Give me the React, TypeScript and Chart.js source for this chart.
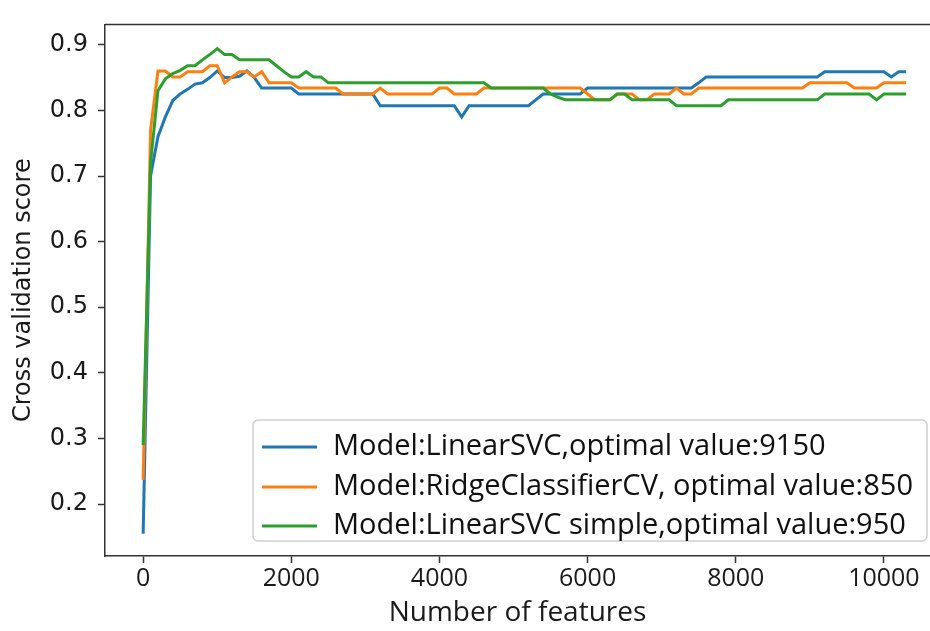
import React, { useEffect, useRef } from "react";
import { Chart, registerables } from "chart.js";

Chart.register(...registerables);

// Number of features (x positions of the points)
const featureCounts = [
  0, 100, 200, 300, 400, 500, 600, 700, 800, 900,
  1000, 1100, 1200, 1300, 1400, 1500, 1600, 1700, 1800, 1900,
  2000, 2100, 2200, 2300, 2400, 2500, 2600, 2700, 2800, 2900,
  3000, 3100, 3200, 3300, 3400, 3500, 3600, 3700, 3800, 3900,
  4000, 4100, 4200, 4300, 4400, 4500, 4600, 4700, 4800, 4900,
  5000, 5100, 5200, 5300, 5400, 5500, 5600, 5700, 5800, 5900,
  6000, 6100, 6200, 6300, 6400, 6500, 6600, 6700, 6800, 6900,
  7000, 7100, 7200, 7300, 7400, 7500, 7600, 7700, 7800, 7900,
  8000, 8100, 8200, 8300, 8400, 8500, 8600, 8700, 8800, 8900,
  9000, 9100, 9200, 9300, 9400, 9500, 9600, 9700, 9800, 9900,
  10000, 10100, 10200, 10300,
];

// Model:LinearSVC
const linearSvc = [
  0.155, 0.700, 0.760, 0.790, 0.815, 0.825, 0.832, 0.840, 0.842, 0.850,
  0.860, 0.850, 0.850, 0.852, 0.860, 0.850, 0.834, 0.834, 0.834, 0.834,
  0.834, 0.825, 0.825, 0.825, 0.825, 0.825, 0.825, 0.825, 0.825, 0.825,
  0.825, 0.825, 0.807, 0.807, 0.807, 0.807, 0.807, 0.807, 0.807, 0.807,
  0.807, 0.807, 0.807, 0.790, 0.807, 0.807, 0.807, 0.807, 0.807, 0.807,
  0.807, 0.807, 0.807, 0.816, 0.825, 0.825, 0.825, 0.825, 0.825, 0.825,
  0.834, 0.834, 0.834, 0.834, 0.834, 0.834, 0.834, 0.834, 0.834, 0.834,
  0.834, 0.834, 0.834, 0.834, 0.834, 0.842, 0.851, 0.851, 0.851, 0.851,
  0.851, 0.851, 0.851, 0.851, 0.851, 0.851, 0.851, 0.851, 0.851, 0.851,
  0.851, 0.851, 0.859, 0.859, 0.859, 0.859, 0.859, 0.859, 0.859, 0.859,
  0.859, 0.851, 0.859, 0.859,
];

// Model:RidgeClassifierCV
const ridgeClassifier = [
  0.237, 0.770, 0.860, 0.860, 0.851, 0.851, 0.859, 0.859, 0.859, 0.868,
  0.868, 0.842, 0.851, 0.859, 0.859, 0.851, 0.859, 0.842, 0.842, 0.842,
  0.842, 0.834, 0.834, 0.834, 0.834, 0.834, 0.834, 0.825, 0.825, 0.825,
  0.825, 0.825, 0.834, 0.825, 0.825, 0.825, 0.825, 0.825, 0.825, 0.825,
  0.834, 0.834, 0.825, 0.825, 0.825, 0.825, 0.834, 0.834, 0.834, 0.834,
  0.834, 0.834, 0.834, 0.834, 0.834, 0.834, 0.834, 0.834, 0.834, 0.834,
  0.825, 0.816, 0.816, 0.816, 0.825, 0.825, 0.825, 0.816, 0.816, 0.825,
  0.825, 0.825, 0.834, 0.825, 0.825, 0.834, 0.834, 0.834, 0.834, 0.834,
  0.834, 0.834, 0.834, 0.834, 0.834, 0.834, 0.834, 0.834, 0.834, 0.834,
  0.842, 0.842, 0.842, 0.842, 0.842, 0.842, 0.834, 0.834, 0.834, 0.834,
  0.842, 0.842, 0.842, 0.842,
];

// Model:LinearSVC simple
const linearSvcSimple = [
  0.290, 0.720, 0.830, 0.848, 0.856, 0.861, 0.868, 0.868, 0.877, 0.885,
  0.894, 0.885, 0.885, 0.877, 0.877, 0.877, 0.877, 0.877, 0.868, 0.859,
  0.851, 0.851, 0.859, 0.851, 0.851, 0.842, 0.842, 0.842, 0.842, 0.842,
  0.842, 0.842, 0.842, 0.842, 0.842, 0.842, 0.842, 0.842, 0.842, 0.842,
  0.842, 0.842, 0.842, 0.842, 0.842, 0.842, 0.842, 0.834, 0.834, 0.834,
  0.834, 0.834, 0.834, 0.834, 0.834, 0.825, 0.820, 0.816, 0.816, 0.816,
  0.816, 0.816, 0.816, 0.816, 0.825, 0.825, 0.816, 0.816, 0.816, 0.816,
  0.816, 0.816, 0.807, 0.807, 0.807, 0.807, 0.807, 0.807, 0.807, 0.816,
  0.816, 0.816, 0.816, 0.816, 0.816, 0.816, 0.816, 0.816, 0.816, 0.816,
  0.816, 0.816, 0.825, 0.825, 0.825, 0.825, 0.825, 0.825, 0.825, 0.816,
  0.825, 0.825, 0.825, 0.825,
];

const seriesLabels = [
  "Model:LinearSVC,optimal value:9150",
  "Model:RidgeClassifierCV, optimal value:850",
  "Model:LinearSVC simple,optimal value:950",
];
const seriesColors = ["#1f77b4", "#ff7f0e", "#2ca02c"];

const xTickValues = [0, 2000, 4000, 6000, 8000, 10000];
const yTickValues = [0.2, 0.3, 0.4, 0.5, 0.6, 0.7, 0.8, 0.9];

const xTitle = "Number of features";
const yTitle = "Cross validation score";

const SPINE = "#333333";

const frameAndLegend = {
  id: "frameAndLegend",
  afterDraw(chart: any) {
    const { ctx, chartArea: a } = chart;
    ctx.save();
    // top spine
    ctx.strokeStyle = SPINE;
    ctx.lineWidth = 1.5;
    ctx.beginPath();
    ctx.moveTo(a.left, a.top);
    ctx.lineTo(a.right, a.top);
    ctx.stroke();

    // legend box
    const bx = 253, by = 420, bw = 674, bh = 121, r = 5;
    ctx.beginPath();
    ctx.moveTo(bx + r, by);
    ctx.lineTo(bx + bw - r, by);
    ctx.arcTo(bx + bw, by, bx + bw, by + r, r);
    ctx.lineTo(bx + bw, by + bh - r);
    ctx.arcTo(bx + bw, by + bh, bx + bw - r, by + bh, r);
    ctx.lineTo(bx + r, by + bh);
    ctx.arcTo(bx, by + bh, bx, by + bh - r, r);
    ctx.lineTo(bx, by + r);
    ctx.arcTo(bx, by, bx + r, by, r);
    ctx.closePath();
    ctx.fillStyle = "rgba(255,255,255,0.85)";
    ctx.fill();
    ctx.strokeStyle = "#cfcfcf";
    ctx.lineWidth = 1.5;
    ctx.stroke();

    const rows = [447, 487, 526];
    ctx.font = '29px "Open Sans"';
    ctx.textBaseline = "middle";
    ctx.textAlign = "left";
    chart.data.datasets.forEach((ds: any, i: number) => {
      const y = rows[i];
      ctx.strokeStyle = ds.borderColor;
      ctx.lineWidth = 3;
      ctx.beginPath();
      ctx.moveTo(262, y);
      ctx.lineTo(317, y);
      ctx.stroke();
      ctx.fillStyle = "#111111";
      ctx.fillText(ds.label, 333, y);
    });
    ctx.restore();
  },
};

export default function App() {
  const ref = useRef<HTMLCanvasElement>(null);

  useEffect(() => {
    const canvas = ref.current;
    if (!canvas) return;
    const toPoints = (ys: number[]) => ys.map((y, i) => ({ x: featureCounts[i], y }));
    const chart = new Chart(canvas, {
      type: "line",
      data: {
        datasets: [
          { label: seriesLabels[0], data: toPoints(linearSvc), borderColor: seriesColors[0], backgroundColor: seriesColors[0], order: 3 },
          { label: seriesLabels[1], data: toPoints(ridgeClassifier), borderColor: seriesColors[1], backgroundColor: seriesColors[1], order: 2 },
          { label: seriesLabels[2], data: toPoints(linearSvcSimple), borderColor: seriesColors[2], backgroundColor: seriesColors[2], order: 1 },
        ],
      },
      options: {
        animation: false,
        responsive: false,
        devicePixelRatio: 1,
        layout: { padding: { top: 12, right: 0, bottom: 0, left: 0 } },
        elements: {
          line: { borderWidth: 3, tension: 0, fill: false },
          point: { radius: 0, hoverRadius: 0 },
        },
        plugins: { legend: { display: false }, tooltip: { enabled: false } },
        scales: {
          x: {
            type: "linear",
            min: -515,
            max: 10622,
            afterBuildTicks: (s: any) => {
              s.ticks = xTickValues.map((v) => ({ value: v }));
            },
            afterFit: (s: any) => {
              s.height = 75;
            },
            grid: { drawOnChartArea: false, drawTicks: true, tickLength: 7, tickColor: SPINE, tickWidth: 1.5 },
            border: { display: true, color: SPINE, width: 1.5 },
            ticks: {
              autoSkip: false,
              maxRotation: 0,
              padding: 1,
              color: "#1a1a1a",
              font: { family: '"Open Sans"', size: 25 },
              callback: (v: any) => String(v),
            },
            title: {
              display: true,
              text: xTitle,
              color: "#1a1a1a",
              font: { family: '"Open Sans"', size: 28 },
              padding: { top: 0, bottom: 1 },
            },
          },
          y: {
            type: "linear",
            min: 0.121,
            max: 0.931,
            afterBuildTicks: (s: any) => {
              s.ticks = yTickValues.map((v) => ({ value: v }));
            },
            afterFit: (s: any) => {
              s.width = 105;
            },
            grid: { drawOnChartArea: false, drawTicks: true, tickLength: 7, tickColor: SPINE, tickWidth: 1.5 },
            border: { display: true, color: SPINE, width: 1.5 },
            ticks: {
              autoSkip: false,
              padding: 10,
              color: "#1a1a1a",
              font: { family: '"DejaVu Sans"', size: 24 },
              callback: (v: any) => Number(v).toFixed(1),
            },
            title: {
              display: true,
              text: yTitle,
              color: "#1a1a1a",
              font: { family: '"DejaVu Sans"', size: 24 },
              padding: { top: 9, bottom: 0 },
            },
          },
        },
      },
      plugins: [frameAndLegend],
    } as any);
    return () => chart.destroy();
  }, []);

  return (
    <div style={{ position: "absolute", left: 0, top: 0, width: 930, height: 631, overflow: "hidden", background: "#ffffff" }}>
      <canvas ref={ref} width={930} height={631} style={{ display: "block", width: 930, height: 631 }} />
    </div>
  );
}
